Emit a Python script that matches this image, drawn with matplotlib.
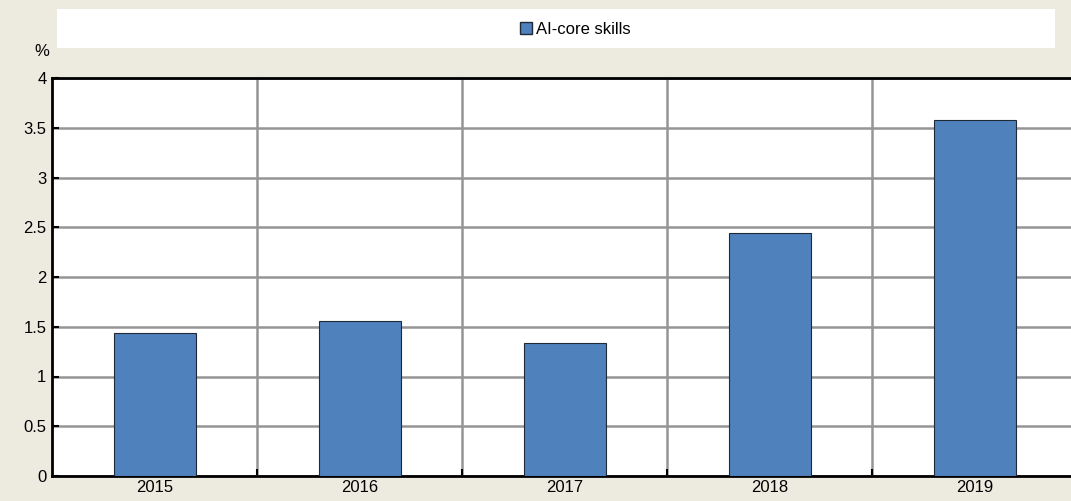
import matplotlib.pyplot as plt
from matplotlib.patches import Rectangle, Patch

years = ['2015', '2016', '2017', '2018', '2019']
ai_core = [1.44, 1.56, 1.34, 2.44, 3.58]

plt.rcParams['font.family'] = ['Liberation Sans', 'DejaVu Sans']
plt.rcParams['font.size'] = 12

bg = '#edeae0'
fig = plt.figure(figsize=(10.71, 5.01), dpi=100, facecolor=bg)
ax = fig.add_axes([52 / 1071, 25 / 501, 1025 / 1071, 398 / 501])

# legend strip at the top
fig.patches.append(Rectangle((57 / 1071, 453 / 501), 998 / 1071, 39 / 501,
                             transform=fig.transFigure, facecolor='white',
                             edgecolor='none', zorder=0))

x = range(len(years))
ax.bar(x, ai_core, width=0.4, color='#4f81bd', edgecolor='#1f2a36',
       linewidth=0.8, zorder=3)

ax.set_xlim(-0.5, len(years) - 0.5)
ax.set_ylim(0, 4)
ax.set_yticks([0, 0.5, 1, 1.5, 2, 2.5, 3, 3.5, 4])
ax.set_yticklabels(['0', '0.5', '1', '1.5', '2', '2.5', '3', '3.5', '4'])
ax.set_xticks(list(x))
ax.set_xticklabels(years)
ax.set_xticks([i + 0.5 for i in range(len(years) - 1)], minor=True)
ax.tick_params(axis='x', which='major', length=0, pad=3)
ax.tick_params(axis='x', which='minor', direction='in', length=5, width=1.5)
ax.tick_params(axis='y', direction='in', length=5, width=1.5, pad=4)

ax.grid(axis='y', color='#959595', linewidth=1.8, zorder=0)
ax.grid(axis='x', which='minor', color='#959595', linewidth=1.8, zorder=0)
ax.set_axisbelow(True)

for s in ['left', 'bottom', 'top']:
    ax.spines[s].set_linewidth(2)
    ax.spines[s].set_color('black')
ax.spines['right'].set_visible(False)

fig.text(42 / 1071, 1 - 52 / 501, '%', ha='center', va='center', fontsize=12)

fig.legend(handles=[Patch(facecolor='#4f81bd', edgecolor='#1f2a36', label='AI-core skills')],
           loc='center', bbox_to_anchor=(575 / 1071, 1 - 29 / 501), frameon=False,
           handlelength=0.75, handleheight=0.75, handletextpad=0.2, fontsize=12)

fig.savefig('out.png', dpi=100, facecolor=bg)
